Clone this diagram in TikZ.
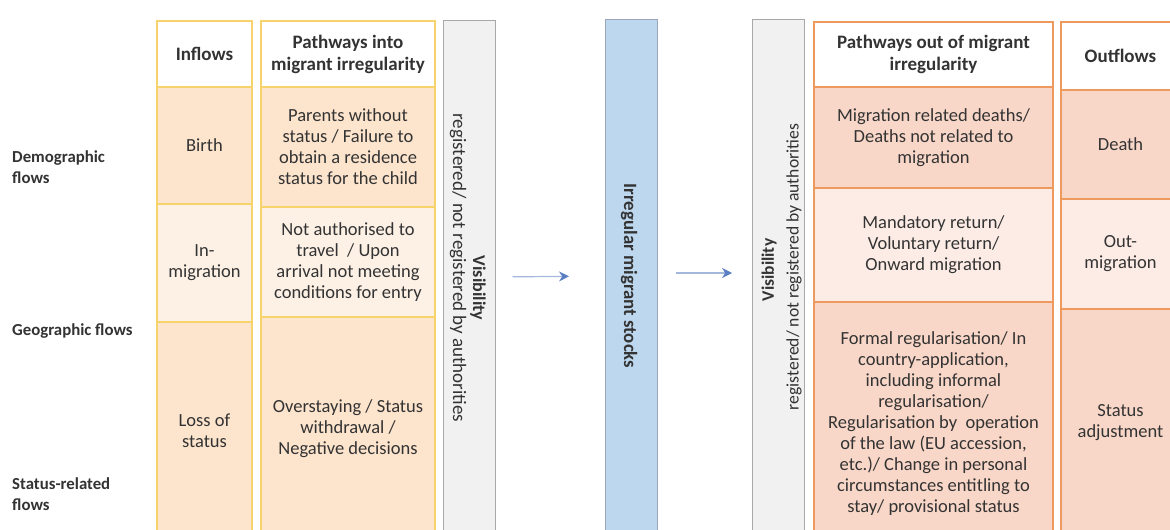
\documentclass[tikz,border=0pt]{standalone}
\usepackage{fontspec}
\setmainfont{Carlito}
\usetikzlibrary{arrows.meta}
\definecolor{goldline}{HTML}{F6D36B}
\definecolor{peach}{HTML}{FCE4CD}
\definecolor{peachlight}{HTML}{FDF1E6}
\definecolor{orangeline}{HTML}{EE9A5E}
\definecolor{salmon}{HTML}{F9D7C8}
\definecolor{salmonlight}{HTML}{FCECE5}
\definecolor{visgray}{HTML}{F1F1F1}
\definecolor{visline}{HTML}{A8A8A8}
\definecolor{stockblue}{HTML}{BDD7EE}
\definecolor{stockline}{HTML}{9AA7B8}
\definecolor{arrowblue}{HTML}{5A7EC2}
\definecolor{txt}{HTML}{333333}

\begin{document}
\begin{tikzpicture}[x=1pt,y=-1pt,
    cellbase/.style={inner sep=0pt,align=center,text=txt,font=\fontsize{18.5}{21}\selectfont},
    incell/.style={cellbase,draw=goldline,line width=1.6pt},
    outcell/.style={cellbase,draw=orangeline,line width=1.4pt},
    headtext/.style={font=\bfseries\fontsize{19}{22}\selectfont},
    visbox/.style={draw=visline,fill=visgray,line width=1pt,minimum width=52pt,minimum height=522pt,inner sep=0pt},
    vistitle/.style={text=txt,font=\bfseries\fontsize{18}{20}\selectfont,inner sep=0pt},
    vissub/.style={text=txt,font=\fontsize{19}{20}\selectfont,inner sep=0pt},
    sidelabel/.style={text=txt,font=\bfseries\fontsize{16.8}{21}\selectfont,align=left,anchor=west,inner sep=0pt},
    flowarrow/.style={draw=arrowblue!55,line width=1.2pt,-{Stealth[length=10pt,width=10pt,color=arrowblue]}}]
  \path[use as bounding box,clip] (0,0) rectangle (1170,530);
  \fill[white] (0,0) rectangle (1170,530);

  % flow types on the left
  \node[sidelabel] (demo) at (12,167) {Demographic\\flows};
  \node[sidelabel] (geo) at (12,331) {Geographic flows};
  \node[sidelabel] (stat) at (12,494) {Status-related\\flows};

  % inflows column
  \node[incell,headtext,minimum width=95pt,minimum height=66pt] (inhead) at (204.5,54) {Inflows};
  \node[incell,fill=peach,minimum width=95pt,minimum height=117pt] (birth) at (204.5,145.5) {Birth};
  \node[incell,fill=peachlight,minimum width=95pt,minimum height=118pt] (inmig) at (204.5,263) {In-\\migration};
  \node[incell,fill=peach,minimum width=95pt,minimum height=218pt] (loss) at (204.5,431) {Loss of\\status};

  % pathways into irregularity
  \node[incell,headtext,minimum width=174pt,minimum height=66pt] (intohead) at (348,54) {Pathways into\\migrant irregularity};
  \node[incell,fill=peach,minimum width=174pt,minimum height=120pt] (parents) at (348,147) {Parents without\\status / Failure to\\obtain a residence\\status for the child};
  \node[incell,fill=peachlight,minimum width=174pt,minimum height=110pt] (notauth) at (348,262) {Not authorised to\\travel~ / Upon\\arrival not meeting\\conditions for entry};
  \node[incell,fill=peach,minimum width=174pt,minimum height=223pt] (overstay) at (348,428.5) {Overstaying / Status\\withdrawal /\\Negative decisions};

  % visibility bands and the stock
  \node[visbox] (visL) at (469,281) {};
  \node[vissub,rotate=-90] (visLsub) at (458,268) {registered/ not registered by authorities};
  \node[vistitle,rotate=-90] (visLtitle) at (478,288) {Visibility};

  \node[visbox,draw=stockline,fill=stockblue] (stock) at (631.5,280) {};
  \node[vistitle,rotate=-90,font=\bfseries\fontsize{18.8}{20}\selectfont] (stocktext) at (629,276) {Irregular migrant stocks};

  \node[visbox] (visR) at (778.5,280) {};
  \node[vistitle,rotate=90,font=\bfseries\fontsize{17.5}{20}\selectfont] (visRtitle) at (769,270) {Visibility};
  \node[vissub,rotate=90,font=\fontsize{17.6}{20}\selectfont] (visRsub) at (794,267) {registered/ not registered by authorities};

  \draw[flowarrow,shorten <=17pt,shorten >=36pt] ([yshift=4pt]visL.east) -- ([yshift=4pt]stock.west);
  \draw[flowarrow,shorten <=18pt,shorten >=20pt] ([yshift=7pt]stock.east) -- ([yshift=7pt]visR.west);

  % pathways out of irregularity
  \node[outcell,headtext,minimum width=239pt,minimum height=65pt] (outhead) at (933.5,54.5) {Pathways out of migrant\\irregularity};
  \node[outcell,fill=salmon,minimum width=239pt,minimum height=101pt] (deaths) at (933.5,137.5) {Migration related deaths/\\Deaths not related to\\migration};
  \node[outcell,fill=salmonlight,minimum width=239pt,minimum height=114pt] (return) at (933.5,245) {Mandatory return/\\Voluntary return/\\Onward migration};
  \node[outcell,fill=salmon,minimum width=239pt,minimum height=243pt] (regul) at (933.5,423.5) {Formal regularisation/ In\\country-application,\\including informal\\regularisation/\\Regularisation by~ operation\\of the law (EU accession,\\etc.)/ Change in personal\\circumstances entitling to\\stay/ provisional status};

  % outflows column
  \node[outcell,headtext,minimum width=119pt,minimum height=68pt] (outflhead) at (1120.5,56) {Outflows};
  \node[outcell,fill=salmon,minimum width=119pt,minimum height=109pt] (death) at (1120.5,144.5) {Death};
  \node[outcell,fill=salmonlight,minimum width=119pt,minimum height=110pt] (outmig) at (1120.5,254) {Out-\\migration};
  \node[outcell,fill=salmon,minimum width=119pt,minimum height=228pt] (adjust) at (1120.5,423) {Status\\adjustment};
\end{tikzpicture}
\end{document}
